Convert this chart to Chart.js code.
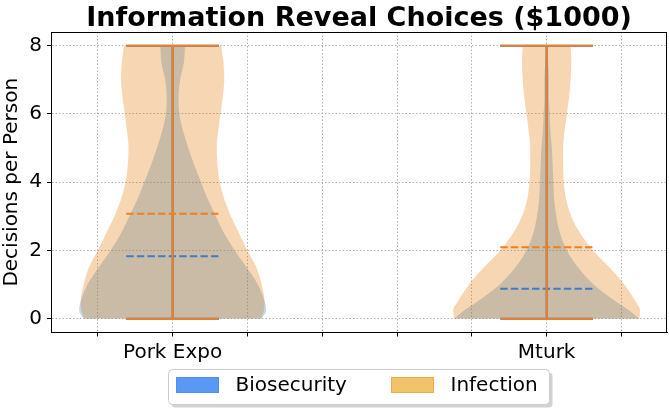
<!DOCTYPE html>
<html>
<head>
<meta charset="utf-8">
<script src="https://cdn.jsdelivr.net/npm/chart.js@4.4.0/dist/chart.umd.min.js"></script>
<style>
    html, body { margin: 0; padding: 0; background: #ffffff; }
</style>
</head>
<body>
<canvas id="violin-chart" width="669" height="411"></canvas>
<script>
// Information Reveal Choices - violin plot

// ========== DATA ==========
const titleText = 'Information Reveal Choices ($1000)';
const yTitle = 'Decisions per Person';
const groups = ['Pork Expo', 'Mturk'];
const groupPos = [0, 5];
const seriesNames = ['Biosecurity', 'Infection'];
const yTicks = [0, 2, 4, 6, 8];

// value levels where the violin half widths were read
const levels = [0, 0.25, 0.5, 1, 1.5, 2, 2.5, 3, 3.5, 4, 4.5, 5, 5.5, 6, 6.5, 7, 7.5, 8];
const porkBioWidth  = [1.19, 1.25, 1.23, 1.14, 0.99, 0.83, 0.69, 0.58, 0.47, 0.38, 0.29, 0.21, 0.14, 0.09, 0.08, 0.10, 0.15, 0.165];
const porkInfWidth  = [1.18, 1.22, 1.23, 1.19, 1.12, 1.00, 0.89, 0.78, 0.69, 0.63, 0.60, 0.59, 0.61, 0.64, 0.67, 0.69, 0.68, 0.65];
const mturkBioWidth = [1.24, 1.10, 0.93, 0.63, 0.42, 0.27, 0.18, 0.13, 0.10, 0.09, 0.08, 0.07, 0.05, 0.04, 0.03, 0.03, 0.02, 0.01];
const mturkInfWidth = [1.24, 1.25, 1.19, 1.04, 0.84, 0.62, 0.45, 0.33, 0.26, 0.23, 0.22, 0.22, 0.24, 0.27, 0.30, 0.32, 0.33, 0.32];

const bioMeans = [1.83, 0.88];
const infMeans = [3.08, 2.10];
const bioMin = [0, 0];
const bioMax = [8, 8];
const infMin = [0, 0];
const infMax = [8, 8];

// ========== STYLE ==========
const FONT = '"DejaVu Sans", sans-serif';
const bioFill = 'rgba(41, 127, 188, 0.3)';
const infFill = 'rgba(228, 120, 8, 0.3)';
const bioLine = '#3d7cc9';
const infLine = '#ee7f22';
const capHalf = 0.62;

// ========== DATASETS ==========
function edge(center, widths, side) {
    return levels.map((v, i) => ({ x: center + side * widths[i], y: v }));
}

function violin(center, widths, color, order) {
    return [
        { data: edge(center, widths, -1), borderWidth: 0, pointRadius: 0, fill: false,
          cubicInterpolationMode: 'monotone', order: order },
        { data: edge(center, widths, 1), borderWidth: 0, pointRadius: 0, fill: '-1',
          backgroundColor: color, cubicInterpolationMode: 'monotone', order: order }
    ];
}

function segment(points, color, dashed, order) {
    return { data: points, borderColor: color, borderWidth: 2, pointRadius: 0, tension: 0,
             fill: false, borderDash: dashed ? [7.4, 3.2] : [], order: order };
}

function statLines(center, mn, mx, mean, color, order) {
    return [
        segment([{ x: center, y: mn }, { x: center, y: mx }], color, false, order),
        segment([{ x: center - capHalf, y: mn }, { x: center + capHalf, y: mn }], color, false, order),
        segment([{ x: center - capHalf, y: mx }, { x: center + capHalf, y: mx }], color, false, order),
        segment([{ x: center - capHalf, y: mean }, { x: center + capHalf, y: mean }], color, true, order)
    ];
}

const bioWidths = [porkBioWidth, mturkBioWidth];
const infWidths = [porkInfWidth, mturkInfWidth];
const datasets = [];
groupPos.forEach((c, g) => {
    datasets.push(...violin(c, bioWidths[g], bioFill, 6));
    datasets.push(...violin(c, infWidths[g], infFill, 5));
});
groupPos.forEach((c, g) => {
    datasets.push(...statLines(c, bioMin[g], bioMax[g], bioMeans[g], bioLine, 2));
    datasets.push(...statLines(c, infMin[g], infMax[g], infMeans[g], infLine, 1));
});

// ========== PLUGINS ==========
const framePlugin = {
    id: 'frame',
    afterDraw(chart) {
        const { ctx, chartArea: a } = chart;
        ctx.save();
        ctx.strokeStyle = '#000';
        ctx.lineWidth = 1;
        ctx.strokeRect(Math.round(a.left) + 0.5, Math.round(a.top) + 0.5,
                       Math.round(a.right - a.left) - 1, Math.round(a.bottom - a.top) - 1);

        // title, centred on the axes
        const cx = (a.left + a.right) / 2;
        ctx.fillStyle = '#000';
        ctx.font = 'bold 27px ' + FONT;
        ctx.textAlign = 'center';
        ctx.textBaseline = 'alphabetic';
        ctx.fillText(titleText, cx, 26);

        // legend box under the axes
        const boxW = 381, boxH = 35;
        const bx = Math.round(cx - boxW / 2) - 0.5, by = 369.5;
        ctx.fillStyle = 'rgba(0,0,0,0.18)';
        roundRect(ctx, bx + 3, by + 3, boxW, boxH, 4);
        ctx.fill();
        ctx.fillStyle = '#fff';
        ctx.strokeStyle = '#cccccc';
        roundRect(ctx, bx, by, boxW, boxH, 4);
        ctx.fill();
        ctx.stroke();

        const patchFill = ['#5a98f6', '#f1c46c'];
        const patchEdge = ['#4d8ef0', '#e9ad45'];
        const itemX = [bx + 8, bx + 223];
        ctx.font = '20px ' + FONT;
        ctx.textAlign = 'left';
        ctx.textBaseline = 'middle';
        seriesNames.forEach((name, i) => {
            ctx.fillStyle = patchFill[i];
            ctx.strokeStyle = patchEdge[i];
            ctx.fillRect(itemX[i], by + 8, 42, 15);
            ctx.strokeRect(itemX[i], by + 8, 42, 15);
            ctx.fillStyle = '#000';
            ctx.fillText(name, itemX[i] + 59, by + 16.5);
        });
        ctx.restore();
    }
};

function roundRect(ctx, x, y, w, h, r) {
    ctx.beginPath();
    ctx.moveTo(x + r, y);
    ctx.lineTo(x + w - r, y);
    ctx.quadraticCurveTo(x + w, y, x + w, y + r);
    ctx.lineTo(x + w, y + h - r);
    ctx.quadraticCurveTo(x + w, y + h, x + w - r, y + h);
    ctx.lineTo(x + r, y + h);
    ctx.quadraticCurveTo(x, y + h, x, y + h - r);
    ctx.lineTo(x, y + r);
    ctx.quadraticCurveTo(x, y, x + r, y);
    ctx.closePath();
}

// ========== CHART ==========
new Chart(document.getElementById('violin-chart'), {
    type: 'line',
    data: { datasets: datasets },
    plugins: [framePlugin],
    options: {
        responsive: false,
        animation: false,
        indexAxis: 'y',
        layout: { padding: { top: 32, right: 2, left: 0, bottom: 0 } },
        plugins: {
            legend: { display: false },
            tooltip: { enabled: false },
            filler: { propagate: false }
        },
        scales: {
            x: {
                type: 'linear',
                min: -1.626,
                max: 6.609,
                afterFit: s => { s.height = 78.5; },
                afterBuildTicks: s => { s.ticks = [-1, 0, 1, 2, 3, 4, 5, 6].map(v => ({ value: v })); },
                ticks: {
                    color: '#000',
                    font: { family: FONT, size: 20 },
                    padding: 4,
                    maxRotation: 0,
                    autoSkip: false,
                    callback: v => {
                        const i = groupPos.indexOf(v);
                        return i >= 0 ? groups[i] : '';
                    }
                },
                grid: { color: '#b0b0b0', lineWidth: 1, tickLength: 4, tickColor: '#000', tickBorderDash: [] },
                border: { color: '#000', width: 1, dash: [1.5, 2] }
            },
            y: {
                type: 'linear',
                min: -0.4,
                max: 8.4,
                afterFit: s => { s.width = 51; },
                afterBuildTicks: s => { s.ticks = yTicks.map(v => ({ value: v })); },
                ticks: {
                    color: '#000',
                    font: { family: FONT, size: 20 },
                    padding: 5
                },
                title: {
                    display: true,
                    text: yTitle,
                    color: '#000',
                    font: { family: FONT, size: 20 },
                    padding: { top: 0, bottom: 0 }
                },
                grid: { color: '#b0b0b0', lineWidth: 1, tickLength: 4, tickColor: '#000', tickBorderDash: [] },
                border: { color: '#000', width: 1, dash: [1.5, 2] }
            }
        }
    }
});
</script>
</body>
</html>
